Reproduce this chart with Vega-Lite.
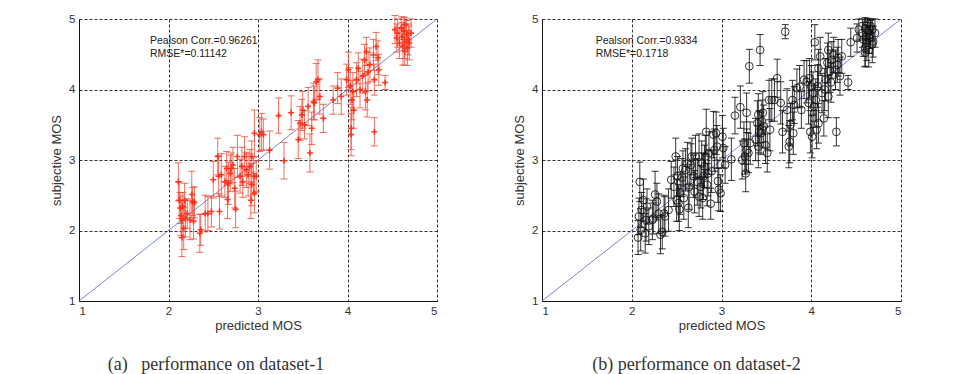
{
  "$schema": "https://vega.github.io/schema/vega-lite/v6.json",
  "background": "white",
  "padding": {"left": 50, "top": 13, "right": 5, "bottom": 5},
  "spacing": 75,
  "datasets": {
    "set1": [
      {"x":2.11,"y":2.69,"e":0.27},{"x":2.12,"y":2.43,"e":0.26},{"x":2.13,"y":2.32,"e":0.22},{"x":2.14,"y":2.21,"e":0.28},{"x":2.15,"y":2.15,"e":0.25},{"x":2.15,"y":1.90,"e":0.27},{"x":2.16,"y":2.34,"e":0.2},{"x":2.17,"y":2.03,"e":0.3},{"x":2.18,"y":2.43,"e":0.24},{"x":2.19,"y":2.17,"e":0.26},
      {"x":2.21,"y":2.24,"e":0.21},{"x":2.24,"y":2.15,"e":0.28},{"x":2.26,"y":2.51,"e":0.33},{"x":2.27,"y":2.41,"e":0.2},{"x":2.28,"y":2.13,"e":0.25},{"x":2.29,"y":2.40,"e":0.22},{"x":2.35,"y":1.96,"e":0.27},{"x":2.36,"y":2.01,"e":0.22},{"x":2.41,"y":2.24,"e":0.26},{"x":2.44,"y":2.24,"e":0.24},
      {"x":2.48,"y":2.27,"e":0.22},{"x":2.50,"y":2.72,"e":0.26},{"x":2.55,"y":3.05,"e":0.26},{"x":2.56,"y":2.77,"e":0.29},{"x":2.57,"y":2.27,"e":0.25},{"x":2.59,"y":2.79,"e":0.3},{"x":2.63,"y":2.69,"e":0.22},{"x":2.65,"y":2.88,"e":0.24},{"x":2.66,"y":2.44,"e":0.27},{"x":2.67,"y":2.67,"e":0.3},
      {"x":2.69,"y":2.81,"e":0.26},{"x":2.70,"y":2.88,"e":0.22},{"x":2.72,"y":2.93,"e":0.25},{"x":2.74,"y":2.60,"e":0.28},{"x":2.75,"y":2.30,"e":0.26},{"x":2.77,"y":3.05,"e":0.3},{"x":2.80,"y":2.77,"e":0.24},{"x":2.82,"y":2.91,"e":0.27},{"x":2.83,"y":2.69,"e":0.22},{"x":2.85,"y":3.05,"e":0.28},
      {"x":2.87,"y":2.86,"e":0.25},{"x":2.89,"y":2.79,"e":0.3},{"x":2.91,"y":2.91,"e":0.24},{"x":2.92,"y":2.43,"e":0.26},{"x":2.93,"y":2.65,"e":0.3},{"x":2.93,"y":3.05,"e":0.22},{"x":2.95,"y":2.77,"e":0.26},{"x":2.96,"y":3.38,"e":0.33},{"x":2.96,"y":2.53,"e":0.28},{"x":2.98,"y":2.77,"e":0.22},
      {"x":3.02,"y":3.36,"e":0.24},{"x":3.04,"y":3.40,"e":0.26},{"x":3.06,"y":3.36,"e":0.22},{"x":3.13,"y":3.14,"e":0.27},{"x":3.23,"y":3.63,"e":0.25},{"x":3.29,"y":2.99,"e":0.26},{"x":3.37,"y":3.67,"e":0.24},{"x":3.45,"y":3.29,"e":0.27},{"x":3.47,"y":3.52,"e":0.24},{"x":3.49,"y":3.64,"e":0.22},
      {"x":3.50,"y":3.71,"e":0.26},{"x":3.52,"y":3.50,"e":0.2},{"x":3.56,"y":3.76,"e":0.27},{"x":3.58,"y":3.10,"e":0.27},{"x":3.60,"y":3.45,"e":0.23},{"x":3.62,"y":3.83,"e":0.26},{"x":3.63,"y":3.81,"e":0.24},{"x":3.65,"y":4.11,"e":0.26},{"x":3.67,"y":4.14,"e":0.28},{"x":3.69,"y":3.90,"e":0.25},
      {"x":3.73,"y":3.59,"e":0.2},{"x":3.84,"y":3.85,"e":0.2},{"x":3.89,"y":4.02,"e":0.22},{"x":3.93,"y":3.90,"e":0.25},{"x":3.99,"y":4.14,"e":0.22},{"x":4.01,"y":4.28,"e":0.25},{"x":4.03,"y":4.05,"e":0.26},{"x":4.04,"y":3.45,"e":0.3},{"x":4.04,"y":3.36,"e":0.3},{"x":4.05,"y":3.85,"e":0.28},
      {"x":4.06,"y":3.97,"e":0.27},{"x":4.07,"y":3.71,"e":0.26},{"x":4.10,"y":4.14,"e":0.24},{"x":4.12,"y":4.30,"e":0.22},{"x":4.14,"y":4.00,"e":0.26},{"x":4.17,"y":4.19,"e":0.24},{"x":4.19,"y":4.42,"e":0.22},{"x":4.20,"y":3.97,"e":0.26},{"x":4.21,"y":4.54,"e":0.2},{"x":4.22,"y":3.85,"e":0.24},
      {"x":4.23,"y":4.25,"e":0.27},{"x":4.25,"y":4.35,"e":0.24},{"x":4.29,"y":4.49,"e":0.22},{"x":4.30,"y":3.40,"e":0.2},{"x":4.30,"y":4.14,"e":0.22},{"x":4.32,"y":4.61,"e":0.2},{"x":4.34,"y":4.45,"e":0.24},{"x":4.35,"y":4.28,"e":0.22},{"x":4.42,"y":4.10,"e":0.1},{"x":4.53,"y":4.85,"e":0.2},
      {"x":4.55,"y":4.73,"e":0.2},{"x":4.56,"y":4.80,"e":0.2},{"x":4.58,"y":4.66,"e":0.22},{"x":4.60,"y":4.87,"e":0.16},{"x":4.61,"y":4.75,"e":0.2},{"x":4.62,"y":4.61,"e":0.26},{"x":4.63,"y":4.83,"e":0.2},{"x":4.64,"y":4.68,"e":0.24},{"x":4.64,"y":4.92,"e":0.1},{"x":4.66,"y":4.78,"e":0.2},
      {"x":4.67,"y":4.59,"e":0.25},{"x":4.68,"y":4.71,"e":0.22},{"x":4.69,"y":4.66,"e":0.24},{"x":4.71,"y":4.80,"e":0.2},{"x":4.64,"y":4.54,"e":0.2}
    ],
    "set2": [
      {"x":2.09,"y":2.69,"e":0.28},{"x":2.08,"y":2.20,"e":0.26},{"x":2.07,"y":1.90,"e":0.24},{"x":2.10,"y":2.01,"e":0.3},{"x":2.11,"y":2.29,"e":0.25},{"x":2.13,"y":2.43,"e":0.3},{"x":2.15,"y":1.96,"e":0.28},{"x":2.16,"y":2.15,"e":0.3},{"x":2.17,"y":2.34,"e":0.25},{"x":2.19,"y":2.06,"e":0.26},
      {"x":2.23,"y":2.15,"e":0.28},{"x":2.24,"y":2.17,"e":0.22},{"x":2.26,"y":2.51,"e":0.33},{"x":2.28,"y":2.41,"e":0.26},{"x":2.30,"y":2.24,"e":0.28},{"x":2.32,"y":1.94,"e":0.27},{"x":2.34,"y":1.98,"e":0.24},{"x":2.36,"y":2.24,"e":0.26},{"x":2.37,"y":2.20,"e":0.28},{"x":2.41,"y":2.29,"e":0.3},
      {"x":2.44,"y":2.72,"e":0.26},{"x":2.47,"y":2.62,"e":0.28},{"x":2.49,"y":3.05,"e":0.26},{"x":2.50,"y":2.43,"e":0.3},{"x":2.51,"y":2.77,"e":0.28},{"x":2.52,"y":2.39,"e":0.26},{"x":2.53,"y":2.30,"e":0.3},{"x":2.54,"y":2.53,"e":0.3},{"x":2.56,"y":2.75,"e":0.27},{"x":2.57,"y":2.88,"e":0.25},
      {"x":2.58,"y":2.46,"e":0.3},{"x":2.60,"y":2.86,"e":0.3},{"x":2.62,"y":2.95,"e":0.3},{"x":2.63,"y":2.32,"e":0.28},{"x":2.64,"y":2.62,"e":0.32},{"x":2.66,"y":2.93,"e":0.3},{"x":2.67,"y":3.05,"e":0.26},{"x":2.69,"y":2.77,"e":0.3},{"x":2.70,"y":2.55,"e":0.3},{"x":2.71,"y":3.05,"e":0.3},
      {"x":2.73,"y":2.69,"e":0.33},{"x":2.75,"y":3.05,"e":0.32},{"x":2.75,"y":2.48,"e":0.28},{"x":2.77,"y":2.62,"e":0.3},{"x":2.78,"y":2.95,"e":0.32},{"x":2.79,"y":2.46,"e":0.3},{"x":2.80,"y":2.77,"e":0.33},{"x":2.81,"y":2.91,"e":0.3},{"x":2.82,"y":3.05,"e":0.3},{"x":2.83,"y":3.40,"e":0.32},
      {"x":2.84,"y":2.65,"e":0.3},{"x":2.85,"y":2.81,"e":0.32},{"x":2.86,"y":3.10,"e":0.3},{"x":2.88,"y":2.38,"e":0.22},{"x":2.89,"y":2.84,"e":0.3},{"x":2.91,"y":3.36,"e":0.33},{"x":2.92,"y":3.14,"e":0.3},{"x":2.94,"y":3.38,"e":0.3},{"x":2.95,"y":3.19,"e":0.3},{"x":2.96,"y":2.70,"e":0.3},
      {"x":2.97,"y":2.58,"e":0.3},{"x":2.99,"y":2.53,"e":0.26},{"x":3.01,"y":3.33,"e":0.3},{"x":3.02,"y":3.17,"e":0.28},{"x":3.04,"y":2.93,"e":0.26},{"x":3.11,"y":3.01,"e":0.3},{"x":3.15,"y":3.63,"e":0.26},{"x":3.21,"y":3.75,"e":0.3},{"x":3.23,"y":3.00,"e":0.27},{"x":3.25,"y":3.24,"e":0.3},
      {"x":3.26,"y":3.05,"e":0.25},{"x":3.27,"y":2.81,"e":0.26},{"x":3.28,"y":3.14,"e":0.3},{"x":3.28,"y":3.67,"e":0.28},{"x":3.30,"y":3.10,"e":0.28},{"x":3.31,"y":4.33,"e":0.24},{"x":3.32,"y":3.24,"e":0.3},{"x":3.38,"y":3.29,"e":0.3},{"x":3.40,"y":3.52,"e":0.32},{"x":3.41,"y":3.64,"e":0.3},
      {"x":3.41,"y":3.19,"e":0.3},{"x":3.42,"y":3.40,"e":0.3},{"x":3.43,"y":4.56,"e":0.22},{"x":3.44,"y":3.38,"e":0.3},{"x":3.45,"y":3.55,"e":0.3},{"x":3.46,"y":3.67,"e":0.3},{"x":3.47,"y":3.48,"e":0.3},{"x":3.49,"y":3.21,"e":0.26},{"x":3.51,"y":3.10,"e":0.27},{"x":3.53,"y":3.85,"e":0.28},
      {"x":3.54,"y":3.43,"e":0.3},{"x":3.56,"y":3.85,"e":0.3},{"x":3.59,"y":3.85,"e":0.3},{"x":3.62,"y":4.16,"e":0.27},{"x":3.66,"y":3.81,"e":0.3},{"x":3.68,"y":3.40,"e":0.3},{"x":3.71,"y":4.82,"e":0.1},{"x":3.73,"y":3.71,"e":0.3},{"x":3.75,"y":3.19,"e":0.3},{"x":3.76,"y":3.26,"e":0.3},
      {"x":3.77,"y":3.50,"e":0.3},{"x":3.79,"y":3.85,"e":0.28},{"x":3.80,"y":3.38,"e":0.3},{"x":3.81,"y":3.78,"e":0.26},{"x":3.84,"y":4.02,"e":0.27},{"x":3.87,"y":4.04,"e":0.3},{"x":3.89,"y":3.71,"e":0.26},{"x":3.92,"y":4.14,"e":0.27},{"x":3.95,"y":4.11,"e":0.3},{"x":3.97,"y":3.81,"e":0.3},
      {"x":3.98,"y":4.16,"e":0.28},{"x":3.99,"y":3.40,"e":0.3},{"x":4.00,"y":4.04,"e":0.3},{"x":4.01,"y":3.33,"e":0.3},{"x":4.02,"y":3.95,"e":0.3},{"x":4.03,"y":3.76,"e":0.3},{"x":4.04,"y":4.67,"e":0.25},{"x":4.05,"y":3.85,"e":0.3},{"x":4.06,"y":3.43,"e":0.27},{"x":4.07,"y":4.05,"e":0.3},
      {"x":4.08,"y":4.30,"e":0.27},{"x":4.08,"y":3.52,"e":0.28},{"x":4.10,"y":4.47,"e":0.27},{"x":4.12,"y":3.95,"e":0.28},{"x":4.14,"y":3.59,"e":0.25},{"x":4.15,"y":4.00,"e":0.3},{"x":4.16,"y":4.14,"e":0.3},{"x":4.18,"y":4.38,"e":0.28},{"x":4.19,"y":3.90,"e":0.3},{"x":4.19,"y":4.56,"e":0.24},
      {"x":4.21,"y":4.26,"e":0.3},{"x":4.22,"y":4.10,"e":0.28},{"x":4.23,"y":4.42,"e":0.26},{"x":4.25,"y":4.49,"e":0.25},{"x":4.27,"y":4.28,"e":0.28},{"x":4.28,"y":3.40,"e":0.2},{"x":4.29,"y":4.35,"e":0.25},{"x":4.30,"y":4.45,"e":0.26},{"x":4.32,"y":4.19,"e":0.27},{"x":4.34,"y":4.47,"e":0.24},
      {"x":4.41,"y":4.10,"e":0.1},{"x":4.44,"y":4.67,"e":0.2},{"x":4.51,"y":4.73,"e":0.2},{"x":4.53,"y":4.85,"e":0.15},{"x":4.57,"y":4.80,"e":0.2},{"x":4.58,"y":4.71,"e":0.24},{"x":4.60,"y":4.59,"e":0.26},{"x":4.60,"y":4.87,"e":0.15},{"x":4.61,"y":4.75,"e":0.22},{"x":4.62,"y":4.66,"e":0.25},
      {"x":4.63,"y":4.83,"e":0.18},{"x":4.64,"y":4.56,"e":0.24},{"x":4.65,"y":4.73,"e":0.22},{"x":4.66,"y":4.90,"e":0.1},{"x":4.66,"y":4.78,"e":0.2},{"x":4.68,"y":4.64,"e":0.26},{"x":4.68,"y":4.85,"e":0.15},{"x":4.69,"y":4.68,"e":0.22},{"x":4.71,"y":4.80,"e":0.2},{"x":4.60,"y":4.52,"e":0.2},
      {"x":4.63,"y":4.94,"e":0.06}
    ]
  },
  "hconcat": [
    {
      "width": 358,
      "height": 282,
      "title": {"text": "(a)\u00a0\u00a0\u00a0performance on dataset-1", "orient": "bottom", "anchor": "middle", "frame": "group", "dx": -42, "offset": 23},
      "layer": [
        {
          "data": {"values": [{}]},
          "mark": {"type": "rule", "color": "#5566cc", "strokeWidth": 0.8},
          "encoding": {
            "x": {"datum": 1, "type": "quantitative", "scale": {"domain": [1, 5], "nice": false, "zero": false}, "axis": {"values": [1, 2, 3, 4, 5], "format": "d", "title": "predicted MOS"}},
            "y": {"datum": 1, "type": "quantitative", "scale": {"domain": [1, 5], "nice": false, "zero": false}, "axis": {"values": [1, 2, 3, 4, 5], "format": "d", "title": "subjective MOS"}},
            "x2": {"datum": 5},
            "y2": {"datum": 5}
          }
        },
        {
          "data": {"name": "set1"},
          "mark": {"type": "errorbar", "ticks": true, "size": 7, "thickness": 1, "color": "#f04a35", "opacity": 0.8},
          "encoding": {
            "x": {"field": "x", "type": "quantitative", "axis": {"values": [1, 2, 3, 4, 5], "format": "d", "title": "predicted MOS"}},
            "y": {"field": "y", "type": "quantitative", "axis": {"values": [1, 2, 3, 4, 5], "format": "d", "title": "subjective MOS"}},
            "yError": {"field": "e"}
          }
        },
        {
          "data": {"name": "set1"},
          "mark": {"type": "point", "shape": "M-1,0L1,0M0,-1L0,1", "filled": false, "size": 36, "strokeWidth": 1.6, "color": "#ff2a10", "opacity": 0.9},
          "encoding": {
            "x": {"field": "x", "type": "quantitative", "axis": {"values": [1, 2, 3, 4, 5], "format": "d", "title": "predicted MOS"}},
            "y": {"field": "y", "type": "quantitative", "axis": {"values": [1, 2, 3, 4, 5], "format": "d", "title": "subjective MOS"}}
          }
        },
        {
          "data": {"values": [{}]},
          "mark": {"type": "text", "align": "left", "baseline": "alphabetic", "font": "Liberation Sans", "fontSize": 10.5, "lineHeight": 13, "color": "#222"},
          "encoding": {
            "x": {"datum": 1.793, "type": "quantitative"},
            "y": {"datum": 4.645, "type": "quantitative"},
            "text": {"value": ["Pealson Corr.=0.96261", "RMSE*=0.11142"]}
          }
        }
      ]
    },
    {
      "width": 359,
      "height": 282,
      "title": {"text": "(b) performance on dataset-2", "orient": "bottom", "anchor": "middle", "frame": "group", "dx": -25, "offset": 23},
      "layer": [
        {
          "data": {"values": [{}]},
          "mark": {"type": "rule", "color": "#5566cc", "strokeWidth": 0.8},
          "encoding": {
            "x": {"datum": 1, "type": "quantitative", "scale": {"domain": [1, 5], "nice": false, "zero": false}, "axis": {"values": [1, 2, 3, 4, 5], "format": "d", "title": "predicted MOS"}},
            "y": {"datum": 1, "type": "quantitative", "scale": {"domain": [1, 5], "nice": false, "zero": false}, "axis": {"values": [1, 2, 3, 4, 5], "format": "d", "title": "subjective MOS"}},
            "x2": {"datum": 5},
            "y2": {"datum": 5}
          }
        },
        {
          "data": {"name": "set2"},
          "mark": {"type": "errorbar", "ticks": true, "size": 7, "thickness": 1, "color": "#111", "opacity": 0.85},
          "encoding": {
            "x": {"field": "x", "type": "quantitative", "axis": {"values": [1, 2, 3, 4, 5], "format": "d", "title": "predicted MOS"}},
            "y": {"field": "y", "type": "quantitative", "axis": {"values": [1, 2, 3, 4, 5], "format": "d", "title": "subjective MOS"}},
            "yError": {"field": "e"}
          }
        },
        {
          "data": {"name": "set2"},
          "mark": {"type": "point", "shape": "circle", "filled": false, "size": 60, "strokeWidth": 1, "color": "#111", "opacity": 0.85},
          "encoding": {
            "x": {"field": "x", "type": "quantitative", "axis": {"values": [1, 2, 3, 4, 5], "format": "d", "title": "predicted MOS"}},
            "y": {"field": "y", "type": "quantitative", "axis": {"values": [1, 2, 3, 4, 5], "format": "d", "title": "subjective MOS"}}
          }
        },
        {
          "data": {"values": [{}]},
          "mark": {"type": "text", "align": "left", "baseline": "alphabetic", "font": "Liberation Sans", "fontSize": 10.5, "lineHeight": 13, "color": "#222"},
          "encoding": {
            "x": {"datum": 1.598, "type": "quantitative"},
            "y": {"datum": 4.645, "type": "quantitative"},
            "text": {"value": ["Pealson Corr.=0.9334", "RMSE*=0.1718"]}
          }
        }
      ]
    }
  ],
  "config": {
    "view": {"stroke": null},
    "axis": {
      "grid": true,
      "gridColor": "#111",
      "gridDash": [3, 2],
      "gridWidth": 1,
      "gridOpacity": 0.85,
      "domainColor": "#111",
      "domainWidth": 1,
      "ticks": false,
      "labelFont": "Liberation Sans",
      "labelFontSize": 11.5,
      "labelColor": "#333",
      "labelPadding": 4,
      "titleFont": "Liberation Sans",
      "titleFontSize": 13,
      "titleFontWeight": "normal",
      "titleColor": "#333"
    },
    "axisX": {"titlePadding": 3},
    "axisY": {"titlePadding": 5},
    "title": {"font": "Liberation Serif", "fontSize": 18, "fontWeight": "normal", "color": "#333"}
  }
}
